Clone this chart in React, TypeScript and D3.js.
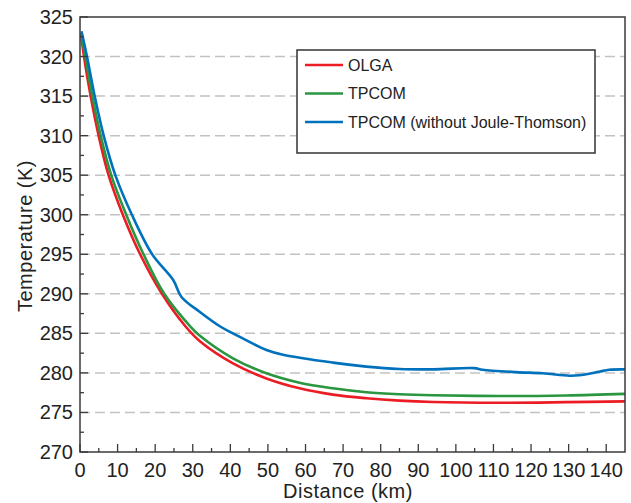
import React from "react";
import * as d3 from "d3";

const olgaKm = [0.3, 1.06, 2.83, 4.96, 7.6, 11.4, 16.0, 21.8, 28.2, 31.9, 40.7, 49.6, 58.4, 67.3, 76.2, 85, 93.9, 111.6, 129.3, 145];
const olgaT = [322.7, 320, 315, 310, 305, 300, 295, 290, 285.8, 284.0, 281.2, 279.3, 278.05, 277.25, 276.79, 276.49, 276.32, 276.23, 276.3, 276.4];

const tpcomKm = [0.3, 1.42, 3.28, 5.5, 8.3, 12.3, 16.9, 22.4, 29.5, 31.9, 40.7, 49.6, 58.4, 67.3, 76.2, 85, 93.9, 111.6, 129.3, 145];
const tpcomT = [322.9, 320, 315, 310, 305, 300, 295, 290, 285.8, 284.7, 281.85, 279.95, 278.76, 278.05, 277.55, 277.3, 277.17, 277.08, 277.15, 277.35];

const noJtKm = [0.4, 1.86, 3.9, 6.3, 9.4, 13.8, 19.2, 24.8, 27.0, 31.9, 37.2, 40.7, 49.6, 54.0, 67.3, 76.2, 85.0, 93.9, 104.9, 107.1, 116.0, 123.1, 130.2, 132.8, 138.1, 140.8, 145];
const noJtT = [323.2, 320, 315, 310, 305, 300, 295, 291.75, 289.6, 287.7, 285.9, 285.0, 282.9, 282.3, 281.3, 280.8, 280.5, 280.45, 280.6, 280.4, 280.1, 279.95, 279.65, 279.7, 280.15, 280.4, 280.45];

const seriesNames = ["OLGA", "TPCOM", "TPCOM (without Joule-Thomson)"];
const seriesColors = ["#ec1c24", "#2a9640", "#0071bc"];

const xTicks = d3.range(0, 141, 10);
const yTicks = d3.range(270, 326, 5);

const W = 631, H = 503;
const M = { left: 80, right: 625, top: 17, bottom: 452 };
const FONT = "'Liberation Sans', Arial, Helvetica, sans-serif";

export default function App() {
  const x = d3.scaleLinear().domain([0, 145]).range([M.left, M.right]);
  const y = d3.scaleLinear().domain([270, 325]).range([M.bottom, M.top]);
  const line = d3.line<[number, number]>().x(d => x(d[0])).y(d => y(d[1])).curve(d3.curveCatmullRom.alpha(0.5));
  const series = [
    d3.zip(olgaKm, olgaT) as [number, number][],
    d3.zip(tpcomKm, tpcomT) as [number, number][],
    d3.zip(noJtKm, noJtT) as [number, number][],
  ];
  const xMinor = d3.range(5, 145, 10);
  const yMinor = d3.range(272.5, 325, 5);
  const axisColor = "#3a3a3a";
  const legendX = 297, legendY = 50;

  return (
    <svg width={W} height={H} style={{ position: "absolute", left: 0, top: 0, background: "#fff" }} fontFamily={FONT}>
      {yTicks.filter(t => t > 270 && t < 325).map(t => (
        <line key={"g" + t} x1={M.left} x2={M.right} y1={y(t)} y2={y(t)} stroke="#c2c2c2" strokeWidth={1.5} strokeDasharray="10,5" />
      ))}
      {series.map((s, i) => (
        <path key={i} d={line(s) || ""} fill="none" stroke={seriesColors[i]} strokeWidth={2.6} strokeLinejoin="round" />
      ))}
      {yTicks.map(t => (
        <line key={"yt" + t} x1={M.left} x2={M.left + 8} y1={y(t)} y2={y(t)} stroke={axisColor} strokeWidth={1.3} />
      ))}
      {yMinor.map(t => (
        <line key={"ym" + t} x1={M.left} x2={M.left + 4} y1={y(t)} y2={y(t)} stroke={axisColor} strokeWidth={1.3} />
      ))}
      {xTicks.map(t => (
        <line key={"xt" + t} x1={x(t)} x2={x(t)} y1={M.bottom} y2={M.bottom - 8} stroke={axisColor} strokeWidth={1.3} />
      ))}
      {xMinor.map(t => (
        <line key={"xm" + t} x1={x(t)} x2={x(t)} y1={M.bottom} y2={M.bottom - 4} stroke={axisColor} strokeWidth={1.3} />
      ))}
      <rect x={M.left} y={M.top} width={M.right - M.left} height={M.bottom - M.top} fill="none" stroke={axisColor} strokeWidth={1.5} />
      {yTicks.map(t => (
        <text key={"yl" + t} x={73} y={y(t) + 7} textAnchor="end" fontSize={20} fill="#222">{t}</text>
      ))}
      {xTicks.map(t => (
        <text key={"xl" + t} x={x(t)} y={477} textAnchor="middle" fontSize={20} fill="#222">{t}</text>
      ))}
      <text x={348} y={498} textAnchor="middle" fontSize={20} letterSpacing={0.5} fill="#222">Distance (km)</text>
      <text transform={`translate(32,236) rotate(-90)`} textAnchor="middle" fontSize={20} letterSpacing={0.5} fill="#222">Temperature (K)</text>
      <rect x={legendX} y={legendY} width={298} height={103} fill="#fff" stroke="#333" strokeWidth={1.5} />
      {seriesNames.map((n, i) => {
        const ly = 65 + i * 28.5;
        return (
          <g key={n}>
            <line x1={305} x2={343} y1={ly} y2={ly} stroke={seriesColors[i]} strokeWidth={2.6} />
            <text x={348} y={ly + 5.7} fontSize={16} fill="#222">{n}</text>
          </g>
        );
      })}
    </svg>
  );
}
